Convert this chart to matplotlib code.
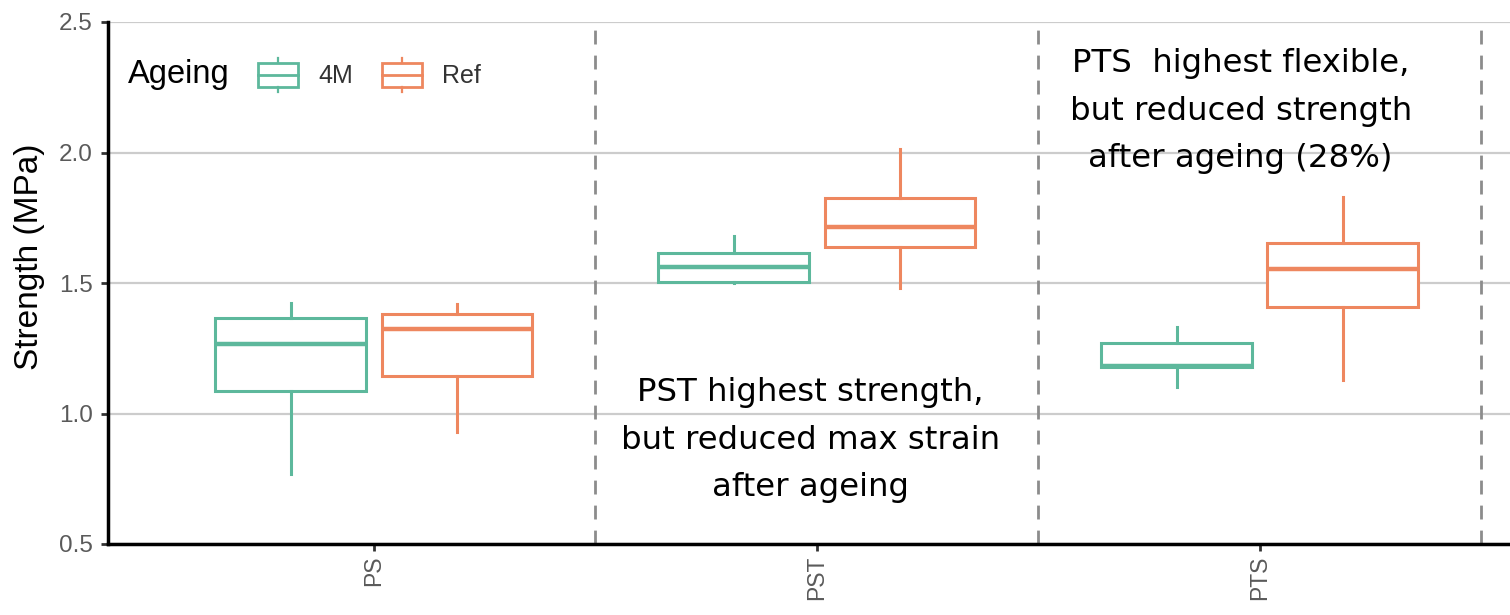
import matplotlib
matplotlib.use("Agg")
import matplotlib.pyplot as plt
from matplotlib.legend_handler import HandlerBase
from matplotlib.patches import Rectangle
from matplotlib.lines import Line2D

# ---- data ----
categories = ["PS", "PST", "PTS"]
groups = ["4M", "Ref"]
# five-number summaries: whisker low, q1, median, q3, whisker high
stats_4M = {
    "whislo": [0.77, 1.50, 1.10],
    "q1":     [1.086, 1.504, 1.178],
    "med":    [1.266, 1.561, 1.182],
    "q3":     [1.366, 1.615, 1.270],
    "whishi": [1.423, 1.680, 1.331],
}
stats_Ref = {
    "whislo": [0.93, 1.481, 1.128],
    "q1":     [1.144, 1.638, 1.408],
    "med":    [1.324, 1.715, 1.554],
    "q3":     [1.381, 1.826, 1.653],
    "whishi": [1.420, 2.013, 1.830],
}
yticks = [0.5, 1.0, 1.5, 2.0, 2.5]
ann_pst = "PST highest strength,\nbut reduced max strain\nafter ageing"
ann_pts = "PTS  highest flexible,\nbut reduced strength\nafter ageing (28%)"

colors = {"4M": "#5DB89C", "Ref": "#EE875F"}
AX_FONT = ["Liberation Sans", "DejaVu Sans"]

fig = plt.figure(figsize=(15.1, 6.15), dpi=100)
ax = fig.add_axes([108/1510, 1-544/615, 1-108/1510, (544-22)/615])

def make_stats(d):
    out = []
    for i in range(len(categories)):
        s = {k: d[k][i] for k in ["whislo", "q1", "med", "q3", "whishi"]}
        s["fliers"] = []
        out.append(s)
    return out

offsets = {"4M": -0.1875, "Ref": 0.1875}
for g, d in (("4M", stats_4M), ("Ref", stats_Ref)):
    c = colors[g]
    pos = [i + 1 + offsets[g] for i in range(len(categories))]
    ax.bxp(make_stats(d), positions=pos, widths=0.34, showcaps=False,
           patch_artist=True, manage_ticks=False,
           boxprops=dict(facecolor="white", edgecolor=c, linewidth=2.2),
           medianprops=dict(color=c, linewidth=3.2),
           whiskerprops=dict(color=c, linewidth=2.2), zorder=3)

ax.set_xlim(0.4, 3.565)
ax.set_ylim(0.5, 2.5)
ax.set_yticks(yticks)
ax.set_yticklabels([f"{v:.1f}" for v in yticks], family=AX_FONT, fontsize=17.5)
ax.set_xticks([1, 2, 3])
ax.set_xticklabels(categories, rotation=90, family=AX_FONT, fontsize=16.5)
ax.yaxis.grid(True, color="#cccccc", linewidth=1.6, zorder=0)
ax.set_axisbelow(True)
for x in [1.5, 2.5, 3.5]:
    ax.axvline(x, color="#8c8c8c", linestyle=(0, (5, 4)), linewidth=2.0, zorder=1)

for s in ["top", "right"]:
    ax.spines[s].set_visible(False)
for s in ["left", "bottom"]:
    ax.spines[s].set_linewidth(2.5)
    ax.spines[s].set_color("black")
ax.tick_params(axis="both", colors="#333333", labelcolor="#5a5a5a",
               length=5, width=2)
ax.tick_params(axis="y", pad=6)
ax.set_ylabel("Strength (MPa)", fontsize=24, color="black", family=AX_FONT)
ax.yaxis.set_label_coords(-0.0447, (544-257)/522)

# annotations
ax.text(1.985, 0.898, ann_pst, ha="center", va="center", fontsize=23.3,
        family=["DejaVu Sans"], linespacing=1.7, zorder=4)
ax.text(2.957, 2.159, ann_pts, ha="center", va="center", fontsize=23.3,
        family=["DejaVu Sans"], linespacing=1.7, zorder=4)

# legend with box glyphs
class BoxHandler(HandlerBase):
    def create_artists(self, legend, orig_handle, xdescent, ydescent,
                       width, height, fontsize, trans):
        c = orig_handle.get_color()
        w, h = width, height
        x0, y0 = -xdescent, -ydescent
        rect = Rectangle((x0, y0 + 0.15*h), w, 0.7*h,
                         facecolor="white", edgecolor=c, lw=2, transform=trans)
        med = Line2D([x0, x0 + w], [y0 + 0.5*h]*2, color=c, lw=2, transform=trans)
        wt = Line2D([x0 + w/2]*2, [y0 + 0.85*h, y0 + 1.0*h], color=c, lw=1.6,
                    transform=trans)
        wb = Line2D([x0 + w/2]*2, [y0 + 0.15*h, y0], color=c, lw=1.6,
                    transform=trans)
        return [rect, med, wt, wb]

handles = [Line2D([], [], color=colors[g]) for g in groups]
fig.text(128/1510, 1-75/615, "Ageing", fontsize=23.5, va="center", ha="left",
         family=AX_FONT)
leg = ax.legend(handles, groups, handler_map={Line2D: BoxHandler()},
                loc="center left", bbox_to_anchor=((258-108)/1402, (544-75)/522),
                ncol=2, frameon=False, fontsize=18, handlelength=1.6,
                handleheight=1.7, columnspacing=1.15, handletextpad=0.8,
                borderpad=0, borderaxespad=0, labelcolor="#333333",
                prop={"family": AX_FONT, "size": 18})

fig.savefig("out.png", dpi=100)
